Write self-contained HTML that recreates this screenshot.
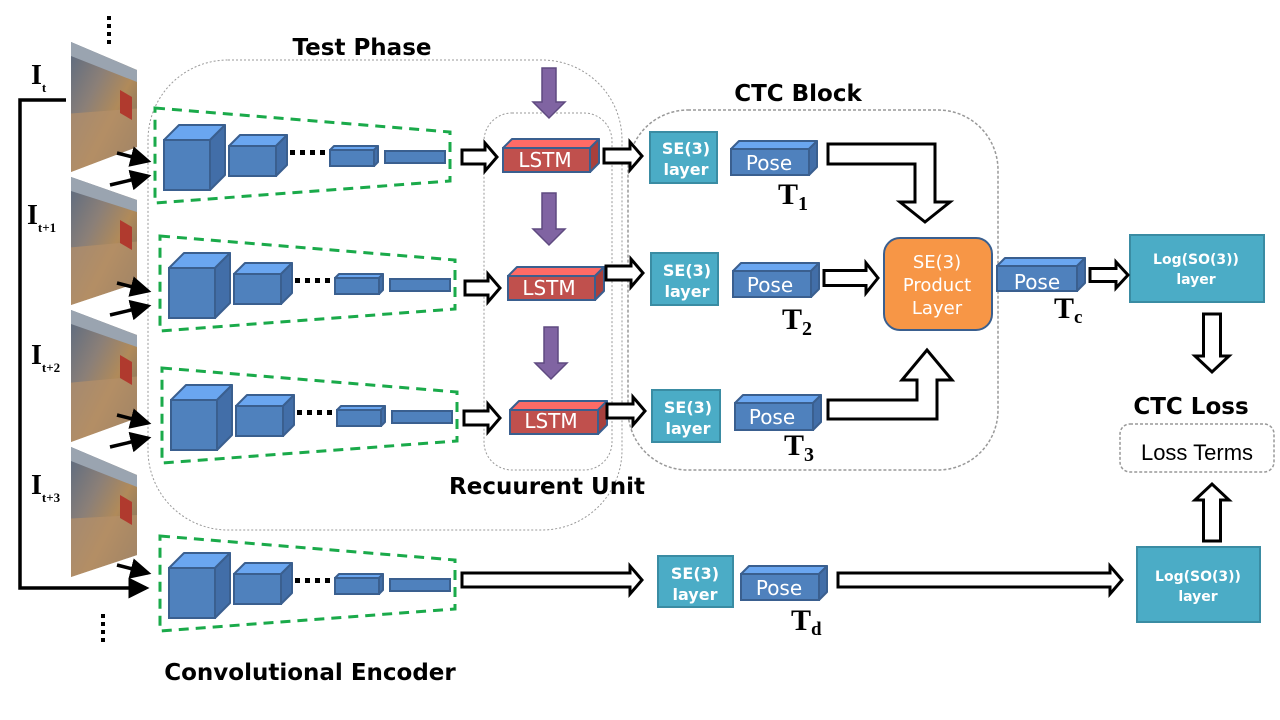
<!DOCTYPE html>
<html><head><meta charset="utf-8"><style>
html,body{margin:0;padding:0;background:#fff;}
svg{display:block;}
.b{font-family:"DejaVu Sans","Liberation Sans",sans-serif;font-weight:bold;}
.w{font-family:"DejaVu Sans","Liberation Sans",sans-serif;fill:#fff;}
.m{font-family:"Liberation Serif",serif;font-weight:bold;}
</style></head><body>
<svg id="s" width="1280" height="720" viewBox="0 0 1280 720" xmlns="http://www.w3.org/2000/svg">
<defs>
<linearGradient id="ph" x1="0" y1="0" x2="1" y2="1">
<stop offset="0" stop-color="#5a6a80"/><stop offset="0.35" stop-color="#8a7f78"/><stop offset="0.6" stop-color="#b08a5a"/><stop offset="1" stop-color="#6b6660"/>
</linearGradient>
<marker id="ah" markerWidth="6" markerHeight="6" refX="5" refY="3" orient="auto" markerUnits="strokeWidth"><path d="M0,0 L6,3 L0,6 z" fill="#000"/></marker>
</defs>
<rect x="148" y="60" width="474" height="470" rx="80" fill="none" stroke="#999" stroke-width="1" stroke-dasharray="2,2"/>
<rect x="484" y="113" width="128" height="357" rx="28" fill="none" stroke="#999" stroke-width="1" stroke-dasharray="2,2"/>
<rect x="628" y="110" width="370" height="360" rx="60" fill="none" stroke="#999" stroke-width="1.5" stroke-dasharray="3,2"/>
<rect x="1120" y="424" width="154" height="48" rx="10" fill="none" stroke="#999" stroke-width="1.5" stroke-dasharray="3,2"/>
<g id="dyn"></g>
<text class="b" x="362" y="55" font-size="23" text-anchor="middle">Test Phase</text>
<text class="b" x="798" y="101" font-size="23" text-anchor="middle">CTC Block</text>
<text class="b" x="547" y="494" font-size="23" text-anchor="middle">Recuurent Unit</text>
<text class="b" x="310" y="680" font-size="23" text-anchor="middle">Convolutional Encoder</text>
<text class="b" x="1191" y="414" font-size="23" text-anchor="middle">CTC Loss</text>
<text x="1197" y="460" font-size="22" text-anchor="middle" font-family="Liberation Sans,sans-serif">Loss Terms</text>
<g class="w" font-size="20" text-anchor="middle">
<text x="545" y="167">LSTM</text><text x="549" y="295">LSTM</text><text x="551" y="428">LSTM</text>
</g>
<g class="w" font-weight="bold" font-size="16" text-anchor="middle">
<text x="686" y="154">SE(3)</text><text x="686" y="175">layer</text>
<text x="687" y="276">SE(3)</text><text x="687" y="297">layer</text>
<text x="688" y="413">SE(3)</text><text x="688" y="434">layer</text>
<text x="695" y="579">SE(3)</text><text x="695" y="600">layer</text>
</g>
<g class="w" font-weight="bold" font-size="14" text-anchor="middle">
<text x="1196" y="264">Log(SO(3))</text><text x="1196" y="284">layer</text>
<text x="1198" y="581">Log(SO(3))</text><text x="1198" y="601">layer</text>
</g>
<g class="w" font-size="20" text-anchor="middle">
<text x="769" y="170">Pose</text><text x="770" y="292">Pose</text><text x="772" y="424">Pose</text><text x="779" y="595">Pose</text><text x="1037" y="289">Pose</text>
</g>
<g class="w" font-size="18" text-anchor="middle">
<text x="937" y="268">SE(3)</text><text x="937" y="291">Product</text><text x="937" y="314">Layer</text>
</g>
<g class="m" font-size="30">
<text x="778" y="204">T<tspan font-size="20" dy="6">1</tspan></text>
<text x="782" y="329">T<tspan font-size="20" dy="6">2</tspan></text>
<text x="784" y="455">T<tspan font-size="20" dy="6">3</tspan></text>
<text x="1054" y="318">T<tspan font-size="19" dy="5">c</tspan></text>
<text x="791" y="630">T<tspan font-size="19" dy="5">d</tspan></text>
</g>
<g class="m" font-size="28">
<text x="31" y="84">I<tspan font-size="13" dy="8">t</tspan></text>
<text x="27" y="224">I<tspan font-size="13" dy="8">t+1</tspan></text>
<text x="31" y="364">I<tspan font-size="13" dy="8">t+2</tspan></text>
<text x="31" y="494">I<tspan font-size="13" dy="8">t+3</tspan></text>
</g>
</svg>
<script>
var g=document.getElementById('dyn'),NS='http://www.w3.org/2000/svg';
function el(t,a){var e=document.createElementNS(NS,t);for(var k in a)e.setAttribute(k,a[k]);g.appendChild(e);return e;}
function poly(p,f,s,sw,extra){var a={points:p.map(function(q){return q.join(',')}).join(' '),fill:f,stroke:s||'none','stroke-width':sw||0};for(var k in extra)a[k]=extra[k];return el('polygon',a);}
function box(x,y,w,h,d,front,top,side,st){
 poly([[x,y],[x+d,y-d],[x+w+d,y-d],[x+w,y]],top,st,2,{'stroke-linejoin':'round'});
 poly([[x+w,y],[x+w+d,y-d],[x+w+d,y+h-d],[x+w,y+h]],side,st,2,{'stroke-linejoin':'round'});
 el('rect',{x:x,y:y,width:w,height:h,fill:front,stroke:st,'stroke-width':2});
}
function blue(x,y,w,h,d){box(x,y,w,h,d,'#4f81bd','#6aa6f0','#426ea8','#3a5f8f');}
function hr(x1,x2,y,h){var t=h/2,sh=t*0.5,hl=12;poly([[x1,y-sh],[x2-hl,y-sh],[x2-hl,y-t],[x2,y],[x2-hl,y+t],[x2-hl,y+sh],[x1,y+sh]],'#fff','#000',3);}
function vr(x,y1,y2,w){var t=w/2,sh=t*0.5,hl=16,dir=y2>y1?1:-1;poly([[x-sh,y1],[x-sh,y2-dir*hl],[x-t,y2-dir*hl],[x,y2],[x+t,y2-dir*hl],[x+sh,y2-dir*hl],[x+sh,y1]],'#fff','#000',3);}
[[42,70,147,172],[177,200,283,305],[310,335,418,442],[447,475,555,577]].forEach(function(p){
 poly([[71,p[0]],[137,p[1]],[137,p[2]],[71,p[3]]],'url(#ph)');
 poly([[71,p[0]],[137,p[1]],[137,p[1]+12],[71,p[0]+14]],'#9aa4b0');
 poly([[71,p[0]+(p[3]-p[0])*0.55],[137,p[1]+(p[2]-p[1])*0.5],[137,p[2]],[71,p[3]]],'#b5906a',null,0,{opacity:0.7});
 poly([[120,p[1]+20],[132,p[1]+27],[132,p[1]+50],[120,p[1]+43]],'#b03a2e');
});
for(var i=0;i<4;i++){el('rect',{x:107,y:16+i*8,width:4,height:4,fill:'#000'});el('rect',{x:101,y:614+i*8,width:4,height:4,fill:'#000'});}
el('polyline',{points:'66,100 20,100 20,588 146,588',fill:'none',stroke:'#000','stroke-width':3.5,'marker-end':'url(#ah)'});
[[158,175],[288,305],[420,437],[570,0]].forEach(function(r){
 var y=r[0];
 el('line',{x1:117,y1:y-5,x2:148,y2:y+3,stroke:'#000','stroke-width':3.5,'marker-end':'url(#ah)'});
 if(r[1])el('line',{x1:110,y1:y+27,x2:148,y2:y+18,stroke:'#000','stroke-width':3.5,'marker-end':'url(#ah)'});
});
[[155,0],[160,128],[162,260],[160,428]].forEach(function(r){
 var x=r[0],o=r[1];
 poly([[x,108+o],[x+295,132+o],[x+295,181+o],[x,203+o]],'none','#1aaa4a',3,{'stroke-dasharray':'10,7'});
 blue(x+9,140+o,46,50,15);
 blue(x+74,146+o,47,30,11);
 for(var k=0;k<4;k++)el('rect',{x:x+135+k*10,y:150+o,width:5,height:5,fill:'#000'});
 blue(x+175,150+o,44,16,4);
 el('rect',{x:x+230,y:151+o,width:60,height:12,fill:'#4f81bd',stroke:'#3a5f8f','stroke-width':2});
});
hr(462,497,157,28);hr(465,500,288,28);hr(464,500,418,28);
hr(462,642,580,28);hr(838,1122,580,28);
[[503,148,87],[508,276,87],[510,410,88]].forEach(function(r){box(r[0],r[1],r[2],24,9,'#c0504d','#ff6b66','#a8403d','#3a5f8f');});
[[549,68,118],[549,193,245],[551,327,379]].forEach(function(r){var x=r[0];poly([[x-7,r[1]],[x+7,r[1]],[x+7,r[2]-16],[x+16,r[2]-16],[x,r[2]],[x-16,r[2]-16],[x-7,r[2]-16]],'#8064a2','#5f4a80',1.5);});
hr(604,642,156,28);hr(606,643,273,28);hr(607,645,411,28);
[[650,132,67,51],[651,253,67,52],[652,390,68,52],[658,556,75,51],[1130,235,134,67],[1137,547,123,75]].forEach(function(r){el('rect',{x:r[0],y:r[1],width:r[2],height:r[3],fill:'#4bacc6',stroke:'#3a8ca3','stroke-width':2});});
blue(731,149,78,26,8);blue(733,271,78,26,8);blue(735,403,78,27,8);blue(741,574,78,26,8);blue(997,266,80,25,8);
el('rect',{x:884,y:238,width:108,height:92,rx:16,fill:'#f79646',stroke:'#3a5f8f','stroke-width':2});
poly([[828,144],[935,144],[935,202],[950,202],[925,222],[900,202],[915,202],[915,164],[828,164]],'#fff','#000',3);
hr(824,878,278,30);
poly([[828,419],[937,419],[937,380],[952,380],[927,350],[902,380],[917,380],[917,400],[828,400]],'#fff','#000',3);
hr(1090,1128,275,26);
vr(1212,314,372,34);vr(1212,541,484,34);
</script>
</body></html>
